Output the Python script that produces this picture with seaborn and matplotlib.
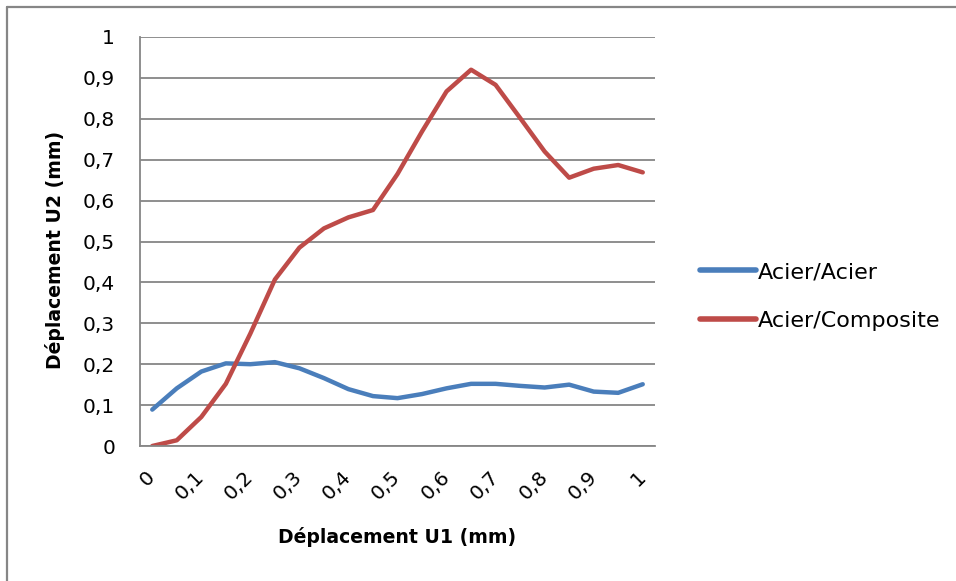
import matplotlib
matplotlib.use("Agg")
import matplotlib.pyplot as plt
import matplotlib.lines as mlines
import matplotlib.transforms as mtransforms
import seaborn as sns
import pandas as pd

# values
u1 = [0, 0.05, 0.1, 0.15, 0.2, 0.25, 0.3, 0.35, 0.4, 0.45, 0.5,
      0.55, 0.6, 0.65, 0.7, 0.75, 0.8, 0.85, 0.9, 0.95, 1]
acier_acier = [0.089, 0.141, 0.182, 0.202, 0.200, 0.205, 0.190, 0.166, 0.139, 0.122, 0.117,
               0.127, 0.141, 0.152, 0.152, 0.147, 0.143, 0.150, 0.133, 0.130, 0.151]
acier_composite = [0.0, 0.014, 0.071, 0.152, 0.275, 0.407, 0.485, 0.532, 0.559, 0.577, 0.665,
                   0.769, 0.867, 0.920, 0.883, 0.802, 0.720, 0.656, 0.678, 0.687, 0.669]
series_names = ["Acier/Acier", "Acier/Composite"]
x_ticks = [0, 0.1, 0.2, 0.3, 0.4, 0.5, 0.6, 0.7, 0.8, 0.9, 1]
x_labels = ["0", "0,1", "0,2", "0,3", "0,4", "0,5", "0,6", "0,7", "0,8", "0,9", "1"]
y_ticks = [0, 0.1, 0.2, 0.3, 0.4, 0.5, 0.6, 0.7, 0.8, 0.9, 1]
y_labels = ["0", "0,1", "0,2", "0,3", "0,4", "0,5", "0,6", "0,7", "0,8", "0,9", "1"]

colors = {"Acier/Acier": "#4a7ebb", "Acier/Composite": "#be4b48"}
grid_grey = "#868686"


def build_frame():
    df = pd.DataFrame({"U1": u1 * 2,
                       "U2": acier_acier + acier_composite,
                       "serie": [series_names[0]] * len(u1) + [series_names[1]] * len(u1)})
    return df


def plot_chart(df):
    sns.set_style("white")
    plt.rcParams['font.family'] = ['DejaVu Sans']
    plt.rcParams['text.color'] = 'black'
    plt.rcParams['axes.labelcolor'] = 'black'
    plt.rcParams['xtick.labelcolor'] = 'black'
    plt.rcParams['ytick.labelcolor'] = 'black'

    W, H = 956, 581
    fig = plt.figure(figsize=(W / 100, H / 100), dpi=100)
    left, right, top, bottom = 140, 655, 37, 446
    ax = fig.add_axes([left / W, 1 - bottom / H, (right - left) / W, (bottom - top) / H])

    sns.lineplot(data=df, x="U1", y="U2", hue="serie", palette=colors, linewidth=3.2,
                 ax=ax, legend=False)
    for line in ax.lines:
        line.set_solid_capstyle("round")
        line.set_solid_joinstyle("round")

    step = u1[1] - u1[0]
    ax.set_xlim(u1[0] - step / 2, u1[-1] + step / 2)
    ax.set_ylim(0, 1)

    # y axis
    ax.set_yticks(y_ticks)
    ax.set_yticklabels(y_labels, fontsize=14.5, color="black")
    ax.yaxis.grid(True, color=grid_grey, linewidth=1.3)
    ax.tick_params(axis="y", length=5, width=1.3, color=grid_grey, pad=13)

    # x axis: tick marks at category borders, labels every other category
    ax.set_xticks(x_ticks)
    ax.set_xticklabels(x_labels, fontsize=14.5, rotation=45, ha="right", va="center",
                       rotation_mode="anchor", color="black")
    shift = mtransforms.ScaledTranslation(5 / 100, 0, fig.dpi_scale_trans)
    for lab in ax.get_xticklabels():
        lab.set_transform(lab.get_transform() + shift)
    ax.set_xticks([u1[0] - step / 2 + i * step for i in range(len(u1) + 1)], minor=True)
    ax.tick_params(axis="x", which="major", length=0, pad=20)
    ax.tick_params(axis="x", which="minor", length=5, width=1.3, color=grid_grey)
    ax.xaxis.grid(False)

    for s in ["top", "right"]:
        ax.spines[s].set_visible(False)
    for s in ["left", "bottom"]:
        ax.spines[s].set_color(grid_grey)
        ax.spines[s].set_linewidth(1.3)

    ax.set_xlabel("Déplacement U1 (mm)", fontsize=13.6, fontweight="bold", color="black")
    ax.set_ylabel("Déplacement U2 (mm)", fontsize=13.6, fontweight="bold", color="black")
    ax.xaxis.set_label_coords(0.5, -0.198)
    ax.yaxis.set_label_coords(-0.146, 0.479)

    handles = [mlines.Line2D([], [], color=colors[n], linewidth=4.0, solid_capstyle="round")
               for n in series_names]
    leg = fig.legend(handles, series_names, loc="center left",
                     bbox_to_anchor=(700 / W, 1 - 296.5 / H), frameon=False, fontsize=16,
                     handlelength=2.5, handletextpad=0.1, borderpad=0, borderaxespad=0,
                     labelspacing=1.3)
    for t in leg.get_texts():
        t.set_color("black")

    # outer chart border (left and top edges visible)
    fig.add_artist(mlines.Line2D([7 / W, 7 / W], [0, 1 - 7 / H], transform=fig.transFigure,
                                 color=grid_grey, linewidth=1.6))
    fig.add_artist(mlines.Line2D([7 / W, 1], [1 - 7 / H, 1 - 7 / H], transform=fig.transFigure,
                                 color=grid_grey, linewidth=1.6))

    fig.savefig("out.png", dpi=100)


def main():
    df = build_frame()
    plot_chart(df)


if __name__ == "__main__":
    main()
